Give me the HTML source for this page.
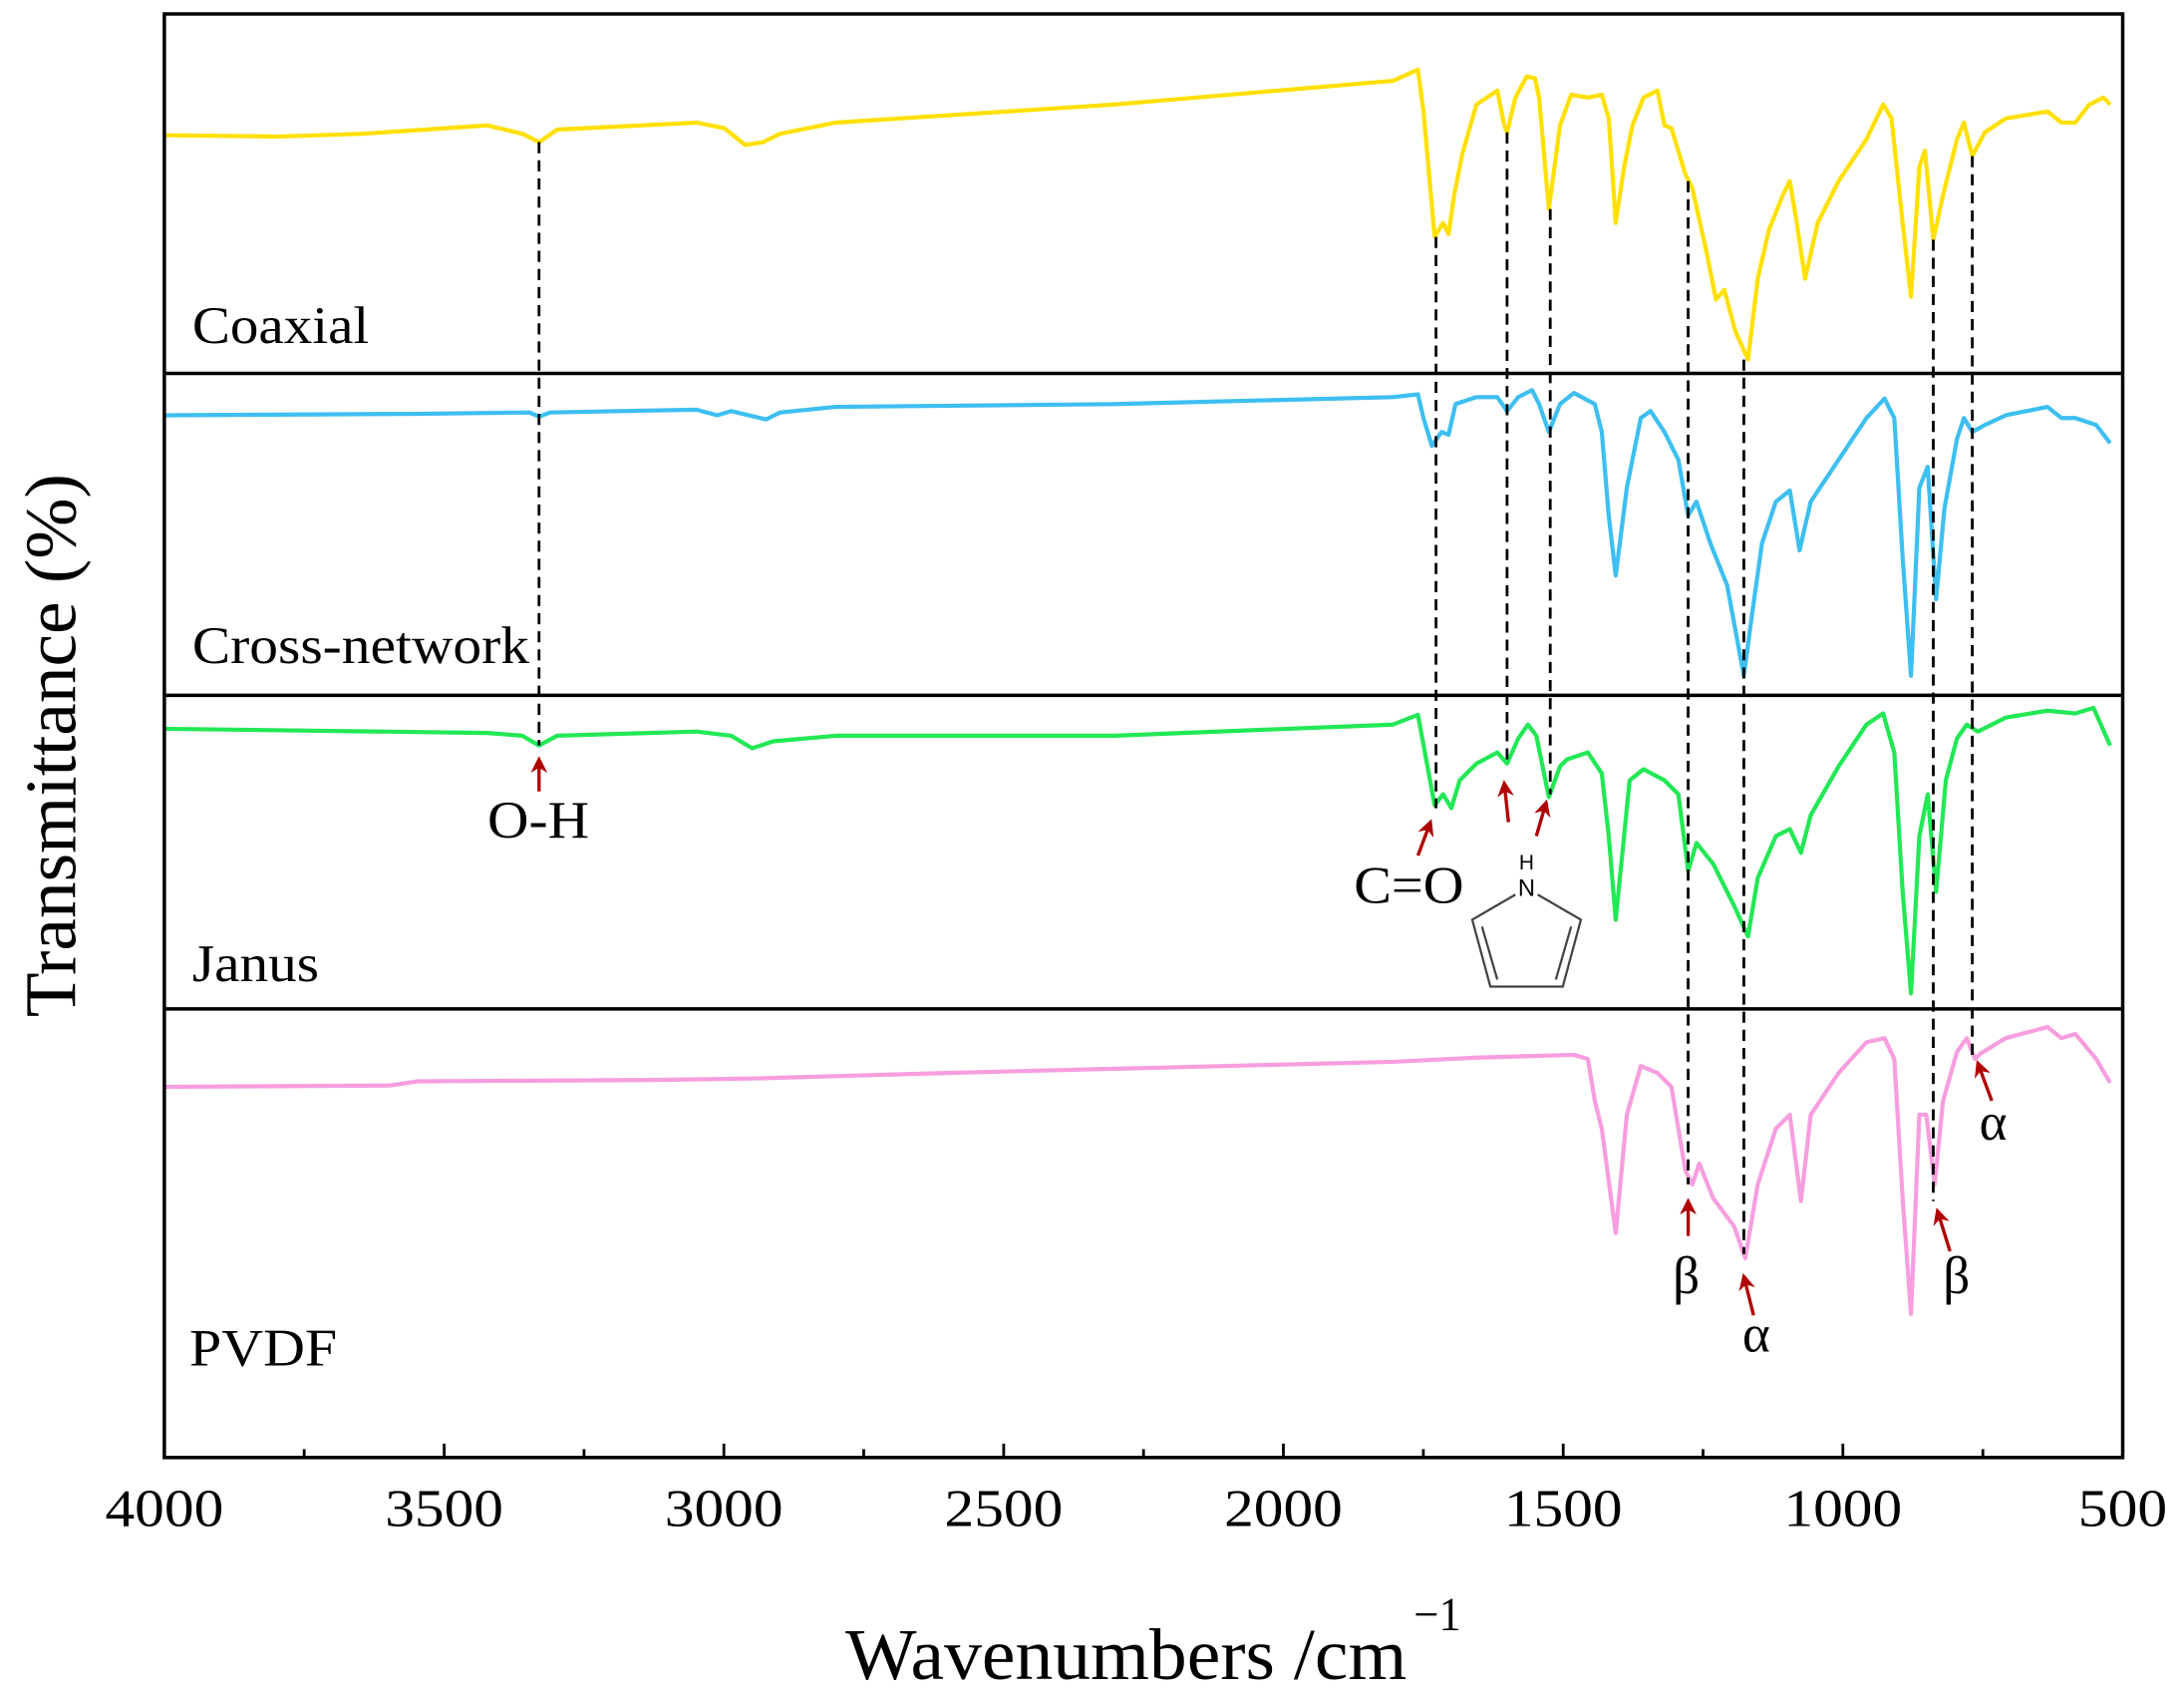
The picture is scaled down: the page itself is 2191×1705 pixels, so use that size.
<!DOCTYPE html>
<html><head><meta charset="utf-8"><style>
html,body{margin:0;padding:0;background:#fff;}
svg{display:block;}
text{font-family:"Liberation Serif",serif;fill:#000;}
</style></head><body>
<svg width="2191" height="1705" viewBox="0 0 1568 1220" preserveAspectRatio="none" xmlns="http://www.w3.org/2000/svg">
<defs>
<marker id="ah" viewBox="0 0 10 10" refX="8" refY="5" markerWidth="5" markerHeight="5" orient="auto">
<path d="M0,0 L10,5 L0,10 L3,5 z" fill="#B00000"/>
</marker>
</defs>
<g fill="none" stroke-width="3" stroke-linejoin="round">
<polyline stroke="#FFE000" points="118,97 200,98 260,96 350,90 375,96 387,102 400,93 500,88 520,92 535,104 548,102 560,96 600,88 800,75 1000,58 1018,50 1022,80 1030,170 1036,160 1040,168 1044,140 1050,110 1060,75 1075,65 1080,90 1082,95 1088,70 1096,55 1102,56 1105,70 1112,150 1120,90 1128,68 1140,70 1150,68 1155,85 1160,160 1166,120 1172,90 1180,70 1190,65 1195,90 1200,92 1210,125 1215,135 1225,180 1232,215 1238,208 1246,238 1255,258 1262,200 1270,165 1280,140 1285,130 1290,160 1296,200 1305,160 1320,130 1340,100 1352,75 1358,85 1366,160 1372,213 1378,120 1382,108 1388,172 1395,140 1405,100 1410,88 1416,112 1425,95 1440,85 1470,80 1480,88 1490,88 1500,75 1510,70 1515,75"/>
<polyline stroke="#3DBFF0" points="118,298 300,297 380,296 387,299 395,296 500,294 515,298 525,295 550,301 560,296 600,292 800,290 1000,285 1018,283 1022,300 1028,320 1035,310 1040,312 1045,290 1060,285 1075,285 1082,295 1090,285 1100,280 1105,290 1112,310 1120,290 1130,282 1145,290 1150,310 1155,370 1160,413 1168,350 1178,300 1185,295 1195,310 1205,330 1212,370 1218,360 1228,390 1240,420 1252,485 1258,440 1265,390 1275,360 1285,352 1292,395 1300,360 1320,330 1340,300 1353,286 1360,300 1366,400 1372,485 1378,350 1384,335 1390,430 1396,365 1405,315 1410,300 1416,310 1425,305 1440,298 1470,292 1480,300 1490,300 1505,305 1515,318"/>
<polyline stroke="#22E855" points="118,523 350,526 375,528 387,535 400,528 500,525 525,528 540,537 555,532 600,528 800,528 1000,520 1018,513 1023,540 1030,578 1036,570 1042,580 1048,560 1060,548 1075,540 1082,548 1090,530 1097,520 1103,528 1112,572 1120,550 1125,545 1140,540 1150,555 1155,600 1160,660 1166,600 1170,560 1180,552 1195,560 1205,570 1212,625 1218,605 1230,620 1245,650 1255,672 1262,630 1275,600 1285,595 1293,612 1300,585 1320,550 1340,520 1352,512 1360,540 1366,640 1372,713 1378,600 1384,570 1390,640 1397,560 1405,530 1412,520 1420,525 1440,515 1470,510 1490,512 1503,508 1515,535"/>
<polyline stroke="#F79EDE" points="118,780 280,779 300,776 470,775 540,774 680,770 1000,762 1060,759 1130,757 1140,760 1145,790 1150,810 1160,885 1168,800 1178,765 1190,770 1200,780 1210,840 1215,850 1220,835 1230,860 1245,880 1253,903 1262,850 1275,810 1285,800 1293,862 1300,800 1320,770 1340,748 1353,745 1360,760 1366,860 1372,943 1378,800 1383,800 1389,850 1395,790 1405,755 1412,745 1418,760 1422,756 1440,745 1470,737 1480,745 1490,742 1505,760 1515,777"/>
</g>
<g stroke="#000" stroke-width="2" stroke-dasharray="8,5">
<line x1="387" y1="102" x2="387" y2="535"/>
<line x1="1031" y1="170" x2="1031" y2="580"/>
<line x1="1082" y1="95" x2="1082" y2="545"/>
<line x1="1113" y1="150" x2="1113" y2="570"/>
<line x1="1212" y1="130" x2="1212" y2="850"/>
<line x1="1252" y1="258" x2="1252" y2="900"/>
<line x1="1388" y1="172" x2="1388" y2="862"/>
<line x1="1416" y1="112" x2="1416" y2="760"/>
</g>
<rect x="118" y="10" width="1406" height="1036" fill="none" stroke="#000" stroke-width="2.5"/>
<g stroke="#000" stroke-width="2.5">
<line x1="118" y1="268" x2="1524" y2="268"/>
<line x1="118" y1="499" x2="1524" y2="499"/>
<line x1="118" y1="724" x2="1524" y2="724"/>
</g>
<g stroke="#000" stroke-width="2">
<line x1="218.4" y1="1046" x2="218.4" y2="1040"/><line x1="318.9" y1="1046" x2="318.9" y2="1036"/>
<line x1="419.3" y1="1046" x2="419.3" y2="1040"/><line x1="519.7" y1="1046" x2="519.7" y2="1036"/>
<line x1="620.1" y1="1046" x2="620.1" y2="1040"/><line x1="720.6" y1="1046" x2="720.6" y2="1036"/>
<line x1="821" y1="1046" x2="821" y2="1040"/><line x1="921.4" y1="1046" x2="921.4" y2="1036"/>
<line x1="1021.9" y1="1046" x2="1021.9" y2="1040"/><line x1="1122.3" y1="1046" x2="1122.3" y2="1036"/>
<line x1="1222.7" y1="1046" x2="1222.7" y2="1040"/><line x1="1323.1" y1="1046" x2="1323.1" y2="1036"/>
<line x1="1423.6" y1="1046" x2="1423.6" y2="1040"/>
</g>
<g font-size="38" text-anchor="middle" lengthAdjust="spacingAndGlyphs">
<text x="118" y="1095" textLength="85" lengthAdjust="spacingAndGlyphs">4000</text>
<text x="318.9" y="1095" textLength="85" lengthAdjust="spacingAndGlyphs">3500</text>
<text x="519.7" y="1095" textLength="85" lengthAdjust="spacingAndGlyphs">3000</text>
<text x="720.6" y="1095" textLength="85" lengthAdjust="spacingAndGlyphs">2500</text>
<text x="921.4" y="1095" textLength="85" lengthAdjust="spacingAndGlyphs">2000</text>
<text x="1122.3" y="1095" textLength="85" lengthAdjust="spacingAndGlyphs">1500</text>
<text x="1323.1" y="1095" textLength="85" lengthAdjust="spacingAndGlyphs">1000</text>
<text x="1524" y="1095" textLength="64" lengthAdjust="spacingAndGlyphs">500</text>
</g>
<text x="607" y="1205" font-size="52" textLength="403" lengthAdjust="spacingAndGlyphs">Wavenumbers /cm</text>
<text x="1015" y="1170" font-size="34" textLength="34" lengthAdjust="spacingAndGlyphs">−1</text>
<text transform="translate(54,535) rotate(-90)" font-size="52" text-anchor="middle" textLength="390" lengthAdjust="spacingAndGlyphs">Transmittance (%)</text>
<g font-size="38">
<text x="138" y="246" textLength="127" lengthAdjust="spacingAndGlyphs">Coaxial</text>
<text x="138" y="476" textLength="242" lengthAdjust="spacingAndGlyphs">Cross-network</text>
<text x="138" y="704" textLength="91" lengthAdjust="spacingAndGlyphs">Janus</text>
<text x="136" y="980" textLength="106" lengthAdjust="spacingAndGlyphs">PVDF</text>
<text x="350" y="601" textLength="73" lengthAdjust="spacingAndGlyphs">O-H</text>
<text x="972" y="648" textLength="79" lengthAdjust="spacingAndGlyphs">C=O</text>
<text x="1201" y="928">β</text>
<text x="1251" y="970">α</text>
<text x="1395" y="928">β</text>
<text x="1421" y="818">α</text>
</g>
<g stroke="#B00000" stroke-width="2.4" marker-end="url(#ah)">
<line x1="387" y1="568" x2="387" y2="545"/>
<line x1="1018" y1="614" x2="1027" y2="590"/>
<line x1="1083" y1="590" x2="1080" y2="562"/>
<line x1="1103" y1="600" x2="1110" y2="576"/>
<line x1="1212" y1="887" x2="1212" y2="862"/>
<line x1="1259" y1="944" x2="1252" y2="916"/>
<line x1="1400" y1="898" x2="1391" y2="869"/>
<line x1="1430" y1="790" x2="1420" y2="763"/>
</g>
<g fill="none" stroke="#444" stroke-width="1.6">
<polyline points="1088,642 1057,660 1070,708 1122,708 1135,660 1104,642"/>
<line x1="1064" y1="665" x2="1075" y2="703"/>
<line x1="1128" y1="665" x2="1117" y2="703"/>
</g>
<text x="1096" y="643" font-size="17" text-anchor="middle" style="font-family:'Liberation Sans',sans-serif" fill="#222">N</text>
<text x="1096" y="624" font-size="15" text-anchor="middle" style="font-family:'Liberation Sans',sans-serif" fill="#222">H</text>
</svg>
</body></html>
